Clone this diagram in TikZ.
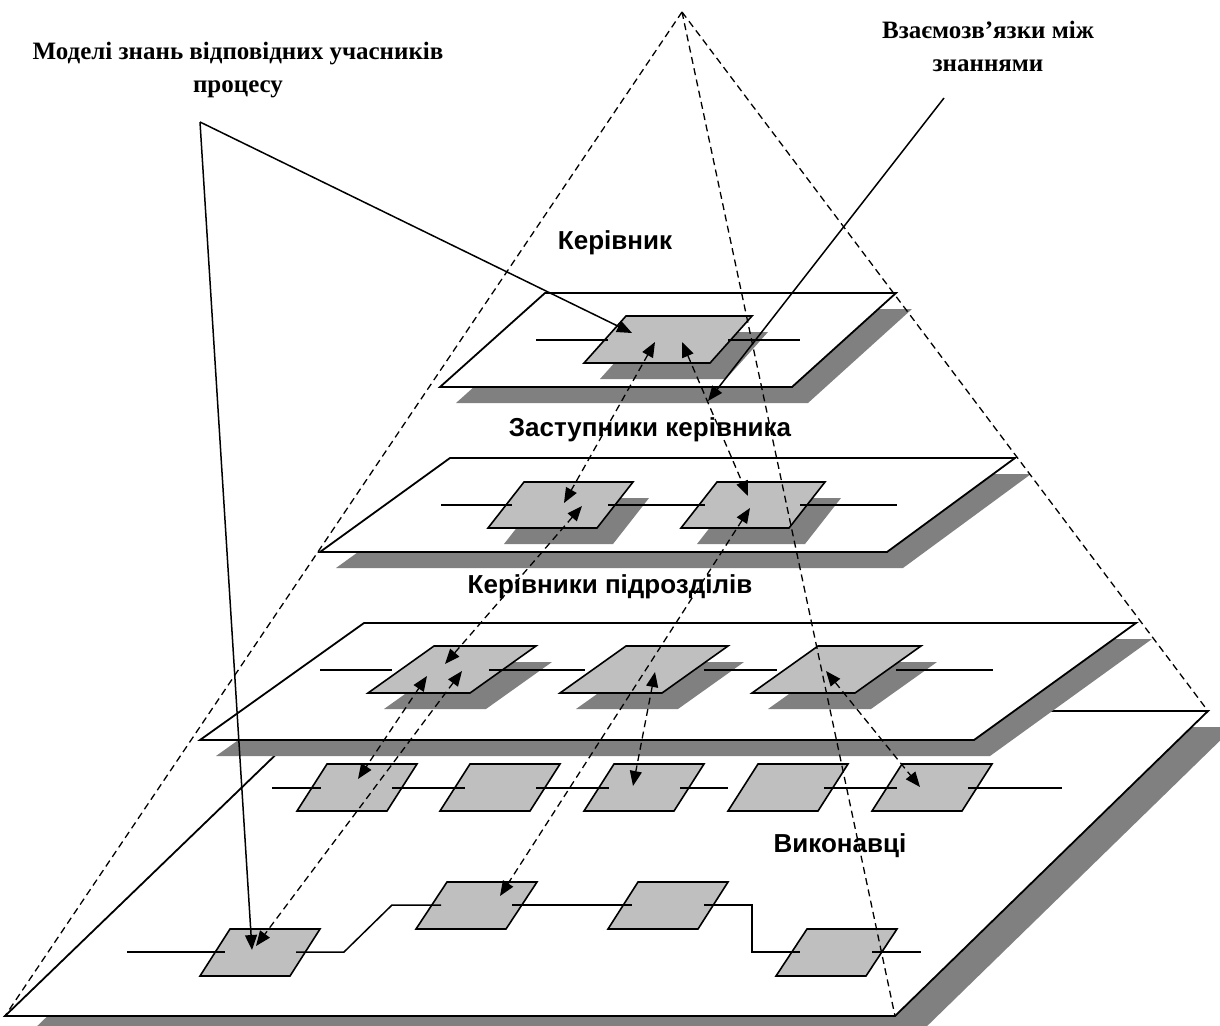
\documentclass[tikz,border=0pt]{standalone}
\usepackage{fontspec}
\setmainfont{Liberation Serif}
\newfontfamily\labfont{Liberation Sans}
\usetikzlibrary{arrows.meta}
\definecolor{shadowgray}{gray}{0.5}
\definecolor{cardgray}{gray}{0.75}
\newcommand\cardS[5]{%
  \fill[shadowgray] (#1+16,#2+16) -- ++(#3,0) -- ++(-#5,#4) -- ++(-#3,0) -- cycle;
  \draw[card] (#1,#2) -- ++(#3,0) -- ++(-#5,#4) -- ++(-#3,0) -- cycle;}
\newcommand\cardN[5]{%
  \draw[card] (#1,#2) -- ++(#3,0) -- ++(-#5,#4) -- ++(-#3,0) -- cycle;}
\newcommand\planeQ[6]{% 4 corners + shadow offset
  \fill[shadowgray] ([shift={(#5,#6)}]#1) -- ([shift={(#5,#6)}]#2) -- ([shift={(#5,#6)}]#3) -- ([shift={(#5,#6)}]#4) -- cycle;
  \draw[plane] (#1) -- (#2) -- (#3) -- (#4) -- cycle;}
\begin{document}
\begin{tikzpicture}[x=1pt,y=-1pt,
  plane/.style={fill=white,draw=black,line width=1.8pt,line join=miter},
  card/.style={fill=cardgray,draw=black,line width=1.6pt},
  link/.style={line width=1.5pt},
  pyr/.style={dash pattern=on 7pt off 4.5pt, line width=1.3pt},
  rel/.style={pyr, {Triangle[length=15pt,width=12pt]}-{Triangle[length=15pt,width=12pt]}},
  ptr/.style={line width=1.5pt,-{Triangle[length=15pt,width=12pt]}},
  lab/.style={font=\labfont\bfseries\fontsize{26}{30}\selectfont},
  ttl/.style={font=\bfseries\fontsize{25}{33}\selectfont, align=center}
]
\useasboundingbox (0,0) rectangle (1220,1025);
\clip (0,0) rectangle (1220,1025);

% ---------- plane 4 (executors)
\planeQ{321,711}{1208,711}{895,1016}{5,1016}{26}{16}
\cardN{327}{764}{90}{47}{30}
\cardN{470}{764}{90}{47}{30}
\cardN{614}{764}{90}{47}{30}
\cardN{758}{764}{90}{47}{30}
\cardN{902}{764}{90}{47}{30}
\draw[link] (272,788) -- (321,788) (392,788) -- (465,788) (536,788) -- (609,788)
  (680,788) -- (728,788) (824,788) -- (897,788) (968,788) -- (1062,788);
\cardN{230}{929}{90}{47}{30}
\cardN{447}{882}{90}{47}{31}
\cardN{638}{882}{90}{47}{30}
\cardN{807}{929}{90}{47}{31}
\draw[link] (127,952) -- (225,952);
\draw[link] (296,952) -- (344,952) -- (392,905) -- (441,905);
\draw[link] (512,905) -- (632,905);
\draw[link] (704,905) -- (752,905) -- (752,952) -- (800,952);
\draw[link] (872,952) -- (921,952);

% ---------- plane 3
\planeQ{364,623}{1136,623}{974,740}{200,740}{16}{16}
\cardS{434}{646}{102}{47}{66}
\cardS{626}{646}{102}{47}{66}
\cardS{818}{646}{103}{47}{66}
\draw[link] (320,670) -- (392,670) (489,670) -- (585,670) (704,670) -- (777,670) (896,670) -- (993,670);

% ---------- plane 2
\planeQ{450,458}{1015,458}{887,552}{320,552}{16}{16}
\cardS{524}{482}{109}{46}{36}
\cardS{717}{482}{108}{46}{36}
\draw[link] (441,505) -- (512,505) (608,505) -- (705,505) (800,505) -- (897,505);

% ---------- plane 1
\planeQ{545,293}{896,293}{792,387}{440,387}{16}{16}
\cardS{626}{316}{126}{47}{42}
\draw[link] (536,340) -- (608,340) (728,340) -- (800,340);

% ---------- labels
\node[ttl] (tl) at (238,70) {Моделі знань відповідних учасників\\процесу};
\node[ttl] (tr) at (988,46) {Взаємозв’язки між\\знаннями};
\node[lab] (l1) at (615,243) {Керівник};
\node[lab] (l2) at (650,430) {Заступники керівника};
\node[lab] (l3) at (610,587) {Керівники підрозділів};
\node[lab] (l4) at (840,846) {Виконавці};

% ---------- pyramid edges
\coordinate (apex) at (682,12);
\coordinate (c1) at (5,1016);
\coordinate (c2) at (895,1016);
\coordinate (c3) at (1208,711);
\draw[pyr] (apex) -- (c1) (apex) -- (c2) (apex) -- (c3);

% ---------- relations
\coordinate (a1) at (655,342); \coordinate (b1) at (564,503);
\coordinate (a2) at (682,342); \coordinate (b2) at (748,496);
\coordinate (a3) at (582,506); \coordinate (b3) at (445,664);
\coordinate (a4) at (427,676); \coordinate (b4) at (358,779);
\coordinate (a5) at (462,671); \coordinate (b5) at (256,946);
\coordinate (a6) at (750,508); \coordinate (b6) at (500,896);
\coordinate (a7) at (655,672); \coordinate (b7) at (633,786);
\coordinate (a8) at (826,671); \coordinate (b8) at (920,787);
\foreach \i in {1,...,8} { \draw[rel] (a\i) -- (b\i); }

% ---------- pointers
\coordinate (v) at (200,122);
\coordinate (vt1) at (632,333);
\coordinate (vt2) at (252,950);
\coordinate (w) at (944,98);
\coordinate (wt) at (708,401);
\draw[ptr] (v) -- (vt1);
\draw[ptr] (v) -- (vt2);
\draw[ptr] (w) -- (wt);
\end{tikzpicture}
\end{document}
